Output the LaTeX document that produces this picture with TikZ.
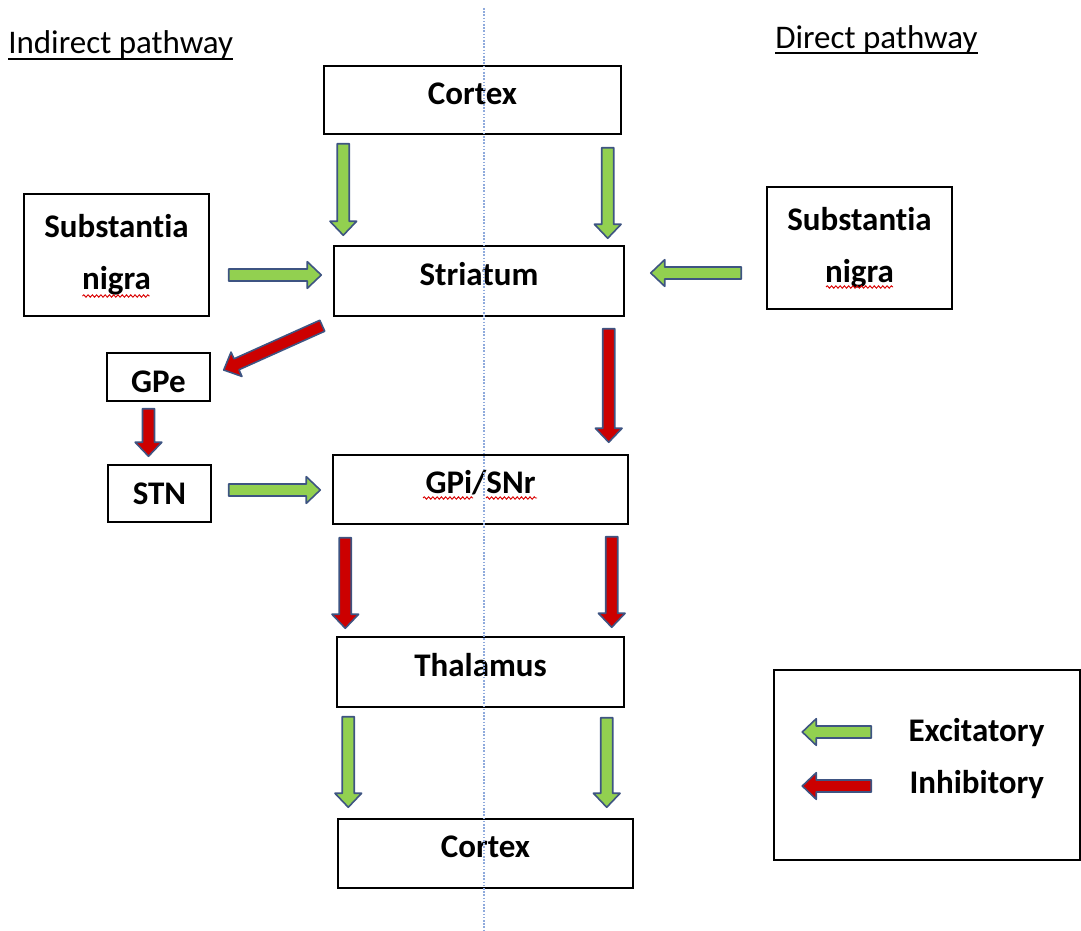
\documentclass[tikz,border=0pt]{standalone}
\usepackage{fontspec}
\setmainfont{Carlito}[Ligatures=NoCommon]
\usetikzlibrary{calc, decorations.pathmorphing}

\definecolor{excgreen}{HTML}{92D050}
\definecolor{inhred}{HTML}{CC0000}
\definecolor{edgeblue}{HTML}{3E5482}
\definecolor{guideblue}{HTML}{8FAADC}

% block arrow: start, tip, fill colour
\newcommand{\blockarrow}[3]{%
  \coordinate (ba-a) at #1;
  \coordinate (ba-b) at #2;
  \coordinate (ba-c) at ($(ba-b)!10.5pt!(ba-a)$);
  \draw[blockline, fill=#3]
    ($(ba-a)!4.5pt!90:(ba-b)$) -- ($(ba-c)!4.5pt!-90:(ba-a)$)
    -- ($(ba-c)!10pt!-90:(ba-a)$) -- (ba-b)
    -- ($(ba-c)!10pt!90:(ba-a)$) -- ($(ba-c)!4.5pt!90:(ba-a)$)
    -- ($(ba-a)!4.5pt!-90:(ba-b)$) -- cycle;
}

\begin{document}
\begin{tikzpicture}[
    x=0.75pt, y=-0.75pt,
    every node/.style={font=\fontsize{24.75}{30}\selectfont},
    box/.style={draw, line width=1.1pt, inner sep=2pt, align=center, font=\bfseries\fontsize{24.75}{30}\selectfont, text height=17pt, text depth=11pt},
    smallbox/.style={box, text height=, text depth=},
    snbox/.style={draw, line width=1.1pt, inner sep=2pt, align=center, font=\bfseries\fontsize{24.75}{30}\selectfont, minimum width=138.75pt, minimum height=91.5pt},
    hdr/.style={inner sep=0pt, anchor=base west},
    lbl/.style={inner sep=0pt, anchor=base west, font=\bfseries\fontsize{24.75}{30}\selectfont},
    blockline/.style={draw=edgeblue, line width=1.2pt, line join=round},
    spellmark/.style={draw=red!85!black, line width=0.7pt, decorate, decoration={snake, amplitude=0.9pt, segment length=3.2pt}},
    guide/.style={draw=guideblue, line width=0.8pt, dash pattern=on 1.2pt off 1.2pt}
]
\useasboundingbox (0,0) rectangle (1081,931);

% Nodes
\node[hdr] (hdrInd) at (8,54) {Indirect pathway};
\node[hdr] (hdrDir) at (775,49) {Direct pathway};

\node[box, minimum width=222.75pt, minimum height=51pt] (cortexT) at (472.5,100) {Cortex};
\node[box, minimum width=217.5pt, minimum height=52.5pt] (striatum) at (479,281) {Striatum};
\node[snbox] (snL) at (116.5,255) {Substantia\\[9pt]nigra};
\node[snbox] (snR) at (859.5,248) {Substantia\\[9pt]nigra};
\node[smallbox, minimum width=77.25pt, minimum height=36pt, text height=23pt, text depth=0pt] (gpe) at (158.5,377) {GPe};
\node[smallbox, minimum width=77.25pt, minimum height=42.75pt] (stn) at (159.5,493.5) {STN};
\node[box, minimum width=221.25pt, minimum height=51.75pt] (gpi) at (480.5,489.5) {GPi/SNr};
\node[box, minimum width=215.25pt, minimum height=52.5pt] (thal) at (480.5,672) {Thalamus};
\node[box, minimum width=221.25pt, minimum height=51.75pt] (cortexB) at (485.5,853.5) {Cortex};

\node[draw, line width=1.1pt, minimum width=229.5pt, minimum height=142.5pt] (legend) at (927,765) {};
\node[lbl] (excLbl) at ($(legend.west)+(135,-24)$) {Excitatory};
\node[lbl] (inhLbl) at ($(legend.west)+(136,28)$) {Inhibitory};

% header underlines
\draw[line width=1.1pt] ($(hdrInd.base west)+(0,5)$) -- ($(hdrInd.base east)+(0,5)$);
\draw[line width=1.1pt] ($(hdrDir.base west)+(0,4)$) -- ($(hdrDir.base east)+(0,4)$);

% spelling marks
\draw[spellmark] ($(snL.center)+(-34,41)$) -- ($(snL.center)+(33,41)$);
\draw[spellmark] ($(snR.center)+(-33.5,39)$) -- ($(snR.center)+(33.5,39)$);
\draw[spellmark] ($(gpi.center)+(-57.5,8.5)$) -- ($(gpi.center)+(-7.5,8.5)$);
\draw[spellmark] ($(gpi.center)+(5.5,8.5)$) -- ($(gpi.center)+(56.5,8.5)$);

% Edges
\blockarrow{($(cortexT.south west)+(20,9)$)}{($(striatum.north west)+(10,-10)$)}{excgreen}
\blockarrow{($(cortexT.south east)+(-14,13)$)}{($(striatum.north east)+(-17,-7)$)}{excgreen}
\blockarrow{($(snL.east |- striatum.west)+(19,-6)$)}{($(striatum.west)+(-12,-6)$)}{excgreen}
\blockarrow{($(snR.west |- striatum.east)+(-25,-8)$)}{($(striatum.east)+(26,-8)$)}{excgreen}
\blockarrow{($(striatum.south west)+(-11,9)$)}{($(gpe.east)+(13,-7)$)}{inhred}
\blockarrow{($(gpe.south)+(-10,7)$)}{($(stn.north)+(-11,-8)$)}{inhred}
\blockarrow{($(stn.east)+(17,-3.5)$)}{($(stn.east -| gpi.west)+(-12,-3.5)$)}{excgreen}
\blockarrow{($(striatum.south east)+(-16,12)$)}{($(gpi.north east)+(-20,-12)$)}{inhred}
\blockarrow{($(gpi.south west)+(13,13)$)}{($(thal.north west)+(9,-8)$)}{inhred}
\blockarrow{($(gpi.south east)+(-17,12)$)}{($(thal.north east)+(-13,-9)$)}{inhred}
\blockarrow{($(thal.south west)+(12,9)$)}{($(cortexB.north west)+(11,-11)$)}{excgreen}
\blockarrow{($(thal.south east)+(-18,10)$)}{($(cortexB.north east)+(-27,-11)$)}{excgreen}
\blockarrow{($(excLbl.base west)+(-37,-9)$)}{($(excLbl.base west)+(-106,-9)$)}{excgreen}
\blockarrow{($(inhLbl.base west)+(-38,-7)$)}{($(inhLbl.base west)+(-107,-7)$)}{inhred}

% midline
\draw[guide] (484,8) -- (484,931);

\end{tikzpicture}
\end{document}
